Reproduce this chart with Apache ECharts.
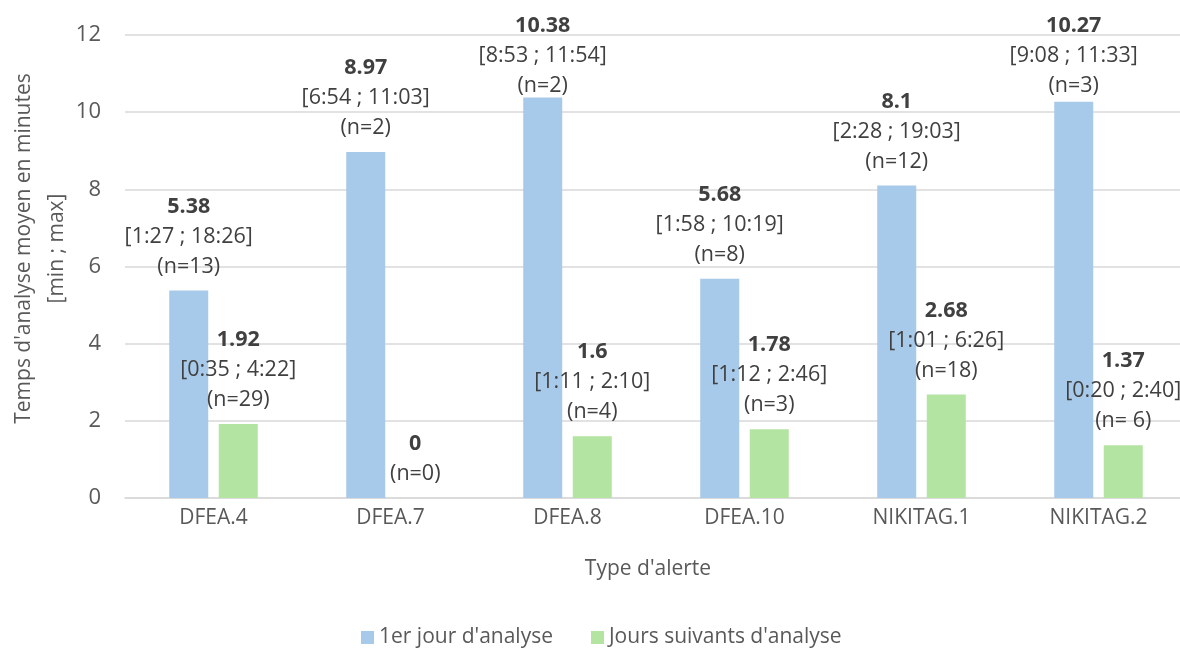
<!DOCTYPE html>
<html>
<head>
<meta charset="utf-8">
<script src="https://cdn.jsdelivr.net/npm/echarts@6/dist/echarts.min.js"></script>
<style>
html,body{margin:0;padding:0;background:#fff;}
#chart{width:1180px;height:650px;}
</style>
</head>
<body>
<div id="chart"></div>
<script>
var categories = ['DFEA.4', 'DFEA.7', 'DFEA.8', 'DFEA.10', 'NIKITAG.1', 'NIKITAG.2'];
var seriesNames = ["1er jour d'analyse", "Jours suivants d'analyse"];
var firstDay = [5.38, 8.97, 10.38, 5.68, 8.1, 10.27];
var nextDays = [1.92, 0, 1.6, 1.78, 2.68, 1.37];
var firstDayRange = ['1:27 ; 18:26', '6:54 ; 11:03', '8:53 ; 11:54', '1:58 ; 10:19', '2:28 ; 19:03', '9:08 ; 11:33'];
var nextDaysRange = ['0:35 ; 4:22', null, '1:11 ; 2:10', '1:12 ; 2:46', '1:01 ; 6:26', '0:20 ; 2:40'];
var firstDayN = ['13', '2', '2', '8', '12', '3'];
var nextDaysN = ['29', '0', '4', '3', '18', ' 6'];
var yTicks = [0, 2, 4, 6, 8, 10, 12];

var FONT = '"Open Sans", "Noto Sans", sans-serif';
var TXT = '#404040';
var AX = '#595959';

function labelText(v, range, n) {
  var s = '{b|' + v + '}';
  if (range) s += '\n{r|[' + range + ']}';
  s += '\n{r|(n=' + n + ')}';
  return s;
}
var richStyle = {
  b: { fontFamily: FONT, fontSize: 21.5, fontWeight: 'bold', color: TXT, lineHeight: 30 },
  r: { fontFamily: FONT, fontSize: 21.5, color: TXT, lineHeight: 30 }
};
// labels pushed down where they would leave the chart area
var topShift = { 2: 12, 5: 8 };

function buildData(values, ranges, ns, shifts) {
  return values.map(function (v, i) {
    var item = { value: v, label: { formatter: labelText(v, ranges[i], ns[i]) } };
    if (shifts && shifts[i]) item.label.offset = [0, shifts[i]];
    return item;
  });
}

var chart = echarts.init(document.getElementById('chart'), null, { renderer: 'canvas' });
chart.setOption({
  backgroundColor: '#ffffff',
  animation: false,
  textStyle: { fontFamily: FONT },
  grid: { left: 125, right: -7, top: 35, bottom: 152, containLabel: false, outerBoundsMode: 'none' },
  legend: {
    data: seriesNames,
    left: 356,
    top: 622,
    icon: 'rect',
    itemWidth: 13,
    itemHeight: 13,
    itemGap: 38,
    textStyle: { fontFamily: FONT, fontSize: 21, color: AX }
  },
  xAxis: {
    type: 'category',
    data: categories,
    name: "Type d'alerte",
    nameLocation: 'middle',
    nameGap: 61,
    nameMoveOverlap: false,
    nameTextStyle: { fontFamily: FONT, fontSize: 21, color: AX, padding: [0, 16, 0, 0] },
    axisLine: { lineStyle: { color: '#d9d9d9', width: 1.5 } },
    axisTick: { show: false },
    axisLabel: { fontFamily: FONT, fontSize: 21, color: AX, margin: 10 }
  },
  yAxis: {
    type: 'value',
    min: yTicks[0],
    max: yTicks[yTicks.length - 1],
    interval: yTicks[1] - yTicks[0],
    name: "Temps d'analyse moyen en minutes\n[min ; max]",
    nameLocation: 'middle',
    nameGap: 51,
    nameMoveOverlap: false,
    nameTextStyle: { fontFamily: FONT, fontSize: 21, color: AX, lineHeight: 33, padding: [0, 0, 0, 36] },
    axisLine: { show: false },
    axisTick: { show: false },
    axisLabel: { fontFamily: FONT, fontSize: 22, color: AX, margin: 24 },
    splitLine: { lineStyle: { color: '#d9d9d9', width: 1.5 } }
  },
  series: [
    {
      name: seriesNames[0],
      type: 'bar',
      data: buildData(firstDay, firstDayRange, firstDayN, topShift),
      barWidth: 39,
      barGap: '27%',
      itemStyle: { color: '#A7C9EA' },
      label: { show: true, position: 'top', distance: 9, align: 'center', rich: richStyle }
    },
    {
      name: seriesNames[1],
      type: 'bar',
      data: buildData(nextDays, nextDaysRange, nextDaysN, null),
      barWidth: 39,
      itemStyle: { color: '#B4E4A1' },
      label: { show: true, position: 'top', distance: 9, align: 'center', rich: richStyle }
    }
  ]
});
</script>
</body>
</html>
